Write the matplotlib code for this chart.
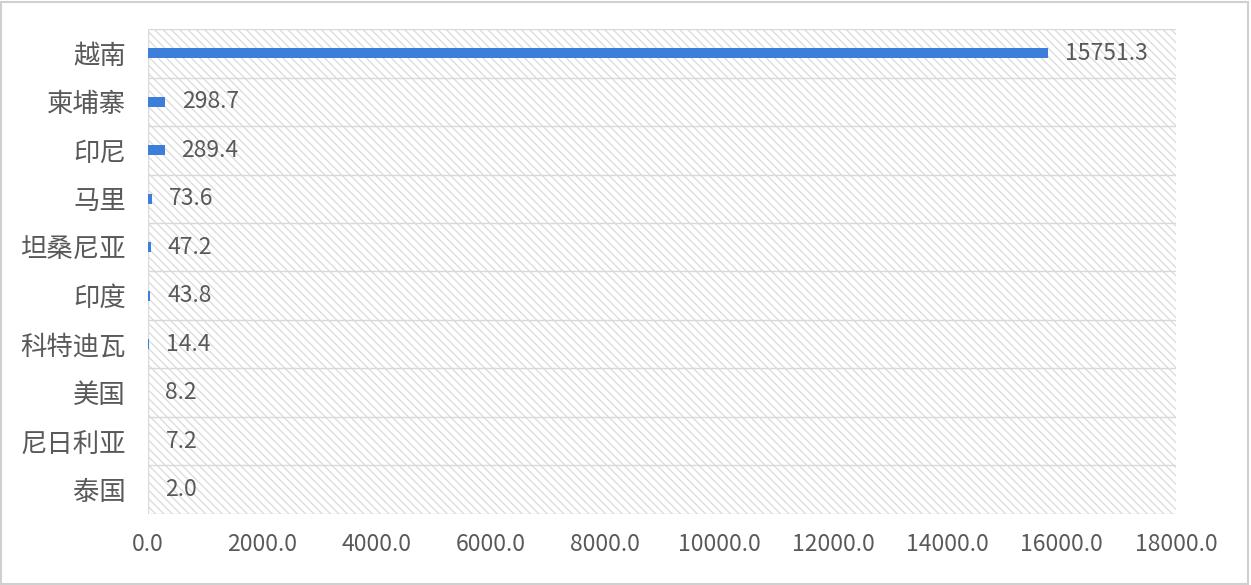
import matplotlib
matplotlib.use("Agg")
import matplotlib.pyplot as plt
from matplotlib.patches import Rectangle

plt.rcParams['font.family'] = ['Noto Sans CJK SC', 'DejaVu Sans']
plt.rcParams['hatch.linewidth'] = 0.9

categories = ['越南', '柬埔寨', '印尼', '马里', '坦桑尼亚', '印度', '科特迪瓦', '美国', '尼日利亚', '泰国']
values = [15751.3, 298.7, 289.4, 73.6, 47.2, 43.8, 14.4, 8.2, 7.2, 2.0]
xticks = [0, 2000, 4000, 6000, 8000, 10000, 12000, 14000, 16000, 18000]

text_color = '#595959'
bar_color = '#3C7FDA'
grid_color = '#D9D9D9'

fig = plt.figure(figsize=(12.51, 5.85), dpi=100)
fig.patch.set_facecolor('white')
fig.add_artist(Rectangle((0.001, 0.002), 0.997, 0.995, transform=fig.transFigure,
                         fill=False, edgecolor='#D0D0D0', linewidth=1.5))

ax = fig.add_axes([0.1183, 0.1214, 0.8217, 0.829])
n = len(categories)
ypos = list(range(n))

# hatched background
ax.add_patch(Rectangle((0, 0), 1, 1, transform=ax.transAxes, facecolor='white',
                       edgecolor='#DADADA', hatch='\\\\\\\\', linewidth=0, zorder=0))

ax.barh(ypos, values, height=0.2, color=bar_color, zorder=3)
ax.set_ylim(n - 0.5, -0.5)
ax.set_xlim(0, 18000)

# horizontal grid lines at category boundaries
for b in range(n + 1):
    ax.axhline(b - 0.5, color=grid_color, linewidth=1.0, zorder=1)
ax.axvline(0, color=grid_color, linewidth=1.0, zorder=2)

for s in ax.spines.values():
    s.set_visible(False)

ax.set_yticks(ypos)
ax.set_yticklabels(categories, fontsize=19, color=text_color)
ax.set_xticks(xticks)
ax.set_xticklabels([f'{t:.1f}' for t in xticks], fontsize=16.5, color=text_color)
ax.tick_params(axis='y', length=0, pad=16)
ax.tick_params(axis='x', length=0, pad=14)

for y, v in zip(ypos, values):
    ax.annotate(f'{v:.1f}', xy=(v, y), xytext=(17, 0), textcoords='offset pixels',
                va='center', ha='left', fontsize=16.5, color=text_color, zorder=4)

fig.savefig('out.png', dpi=100)
